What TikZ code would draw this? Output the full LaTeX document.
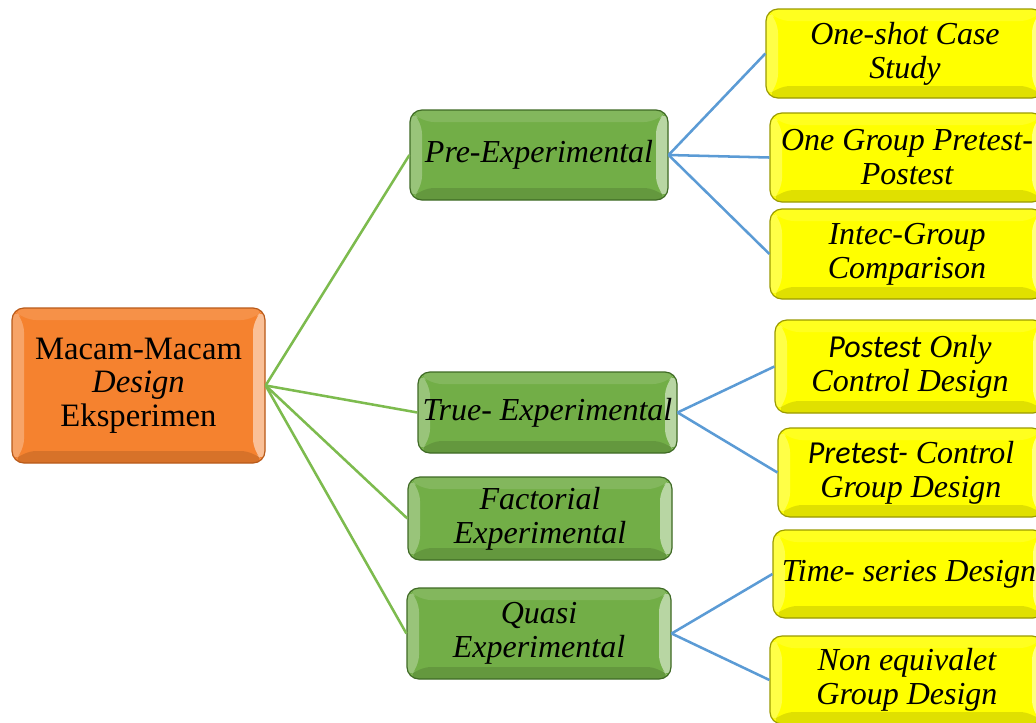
\documentclass[tikz,border=0pt]{standalone}
\usepackage{fontspec}
\setmainfont{Liberation Serif}
\newfontfamily\calibfont{Carlito}
\usetikzlibrary{calc}
\definecolor{orangefill}{HTML}{F5822F}
\definecolor{orangeedge}{HTML}{B85A1A}
\definecolor{greenfill}{HTML}{72AE47}
\definecolor{greenedge}{HTML}{3F6A25}
\definecolor{yellowfill}{HTML}{FFFF00}
\definecolor{yellowedge}{HTML}{9A9A00}
\definecolor{greenline}{HTML}{7DBB4E}
\definecolor{blueline}{HTML}{5B9BD5}
\tikzset{
  bevel/.style={path picture={
    \coordinate (bnw) at (path picture bounding box.north west);
    \coordinate (bne) at (path picture bounding box.north east);
    \coordinate (bsw) at (path picture bounding box.south west);
    \coordinate (bse) at (path picture bounding box.south east);
    \fill[white,opacity=.28] (bnw) -- ($(bnw)+(9pt,-9pt)$) -- ($(bsw)+(9pt,9pt)$) -- (bsw) -- cycle;
    \fill[white,opacity=.5] (bne) -- ($(bne)+(-9pt,-9pt)$) -- ($(bse)+(-9pt,9pt)$) -- (bse) -- cycle;
    \fill[white,opacity=.12] (bnw) -- (bne) -- ($(bne)+(-9pt,-9pt)$) -- ($(bnw)+(9pt,-9pt)$) -- cycle;
    \fill[black,opacity=.12] (bsw) -- (bse) -- ($(bse)+(-9pt,9pt)$) -- ($(bsw)+(9pt,9pt)$) -- cycle;
  }},
  boxbase/.style={rounded corners=9pt, bevel, align=center, inner sep=0pt, line width=0.9pt,
    font=\fontsize{24}{25.5}\selectfont},
  rootbox/.style={boxbase, fill=orangefill, draw=orangeedge, font=\fontsize{24.5}{25}\selectfont},
  greenbox/.style={boxbase, fill=greenfill, draw=greenedge, font=\fontsize{24}{25.5}\selectfont\itshape},
  yellowbox/.style={boxbase, fill=yellowfill, draw=yellowedge, font=\fontsize{24}{25.5}\selectfont\itshape},
  gline/.style={draw=greenline, line width=1.9pt},
  bline/.style={draw=blueline, line width=1.9pt},
}
\begin{document}
\begin{tikzpicture}[x=0.75pt,y=-0.75pt]
\useasboundingbox (0,0) rectangle (1036,722);
\clip (0,0) rectangle (1036,722);
% root
\node[rootbox, minimum width=0.75*253pt, minimum height=0.75*155pt] (root) at (138.5,385.5)
  {Macam-Macam\\\textit{Design}\\Eksperimen};
% second level
\node[greenbox, minimum width=0.75*258pt, minimum height=0.75*90pt] (pre) at (539,155) {Pre-Experimental};
\node[greenbox, minimum width=0.75*259pt, minimum height=0.75*81pt] (true) at (547.5,412.5) {True- Experimental};
\node[greenbox, minimum width=0.75*264pt, minimum height=0.75*83pt] (fact) at (540,518.5) {Factorial\\Experimental};
\node[greenbox, minimum width=0.75*264pt, minimum height=0.75*91pt] (quasi) at (539,633.5) {Quasi\\Experimental};
% third level
\node[yellowbox, minimum width=0.75*278pt, minimum height=0.75*89pt] (y1) at (905,53.5) {One-shot Case\\Study};
\node[yellowbox, minimum width=0.75*274pt, minimum height=0.75*89pt] (y2) at (907,157.5) {One Group Pretest-\\Postest};
\node[yellowbox, minimum width=0.75*274pt, minimum height=0.75*90pt] (y3) at (907,254) {Intec-Group\\Comparison};
\node[yellowbox, minimum width=0.75*270pt, minimum height=0.75*93pt] (y4) at (910,366.5) {{\calibfont Postest} Only\\Control Design};
\node[yellowbox, minimum width=0.75*266pt, minimum height=0.75*89pt] (y5) at (911,472.5) {{\calibfont Pretest-} Control\\Group Design};
\node[yellowbox, minimum width=0.75*272pt, minimum height=0.75*88pt] (y6) at (909,574) {Time- series Design};
\node[yellowbox, minimum width=0.75*274pt, minimum height=0.75*88pt] (y7) at (907,680) {Non equivalet\\Group Design};
% connectors
\draw[gline] (root.east) -- (pre.west);
\draw[gline] (root.east) -- (true.west);
\draw[gline] (root.east) -- (fact.west);
\draw[gline] (root.east) -- (quasi.west);
\draw[bline] (pre.east) -- (y1.west);
\draw[bline] (pre.east) -- (y2.west);
\draw[bline] (pre.east) -- (y3.west);
\draw[bline] (true.east) -- (y4.west);
\draw[bline] (true.east) -- (y5.west);
\draw[bline] (quasi.east) -- (y6.west);
\draw[bline] (quasi.east) -- (y7.west);
\end{tikzpicture}
\end{document}
